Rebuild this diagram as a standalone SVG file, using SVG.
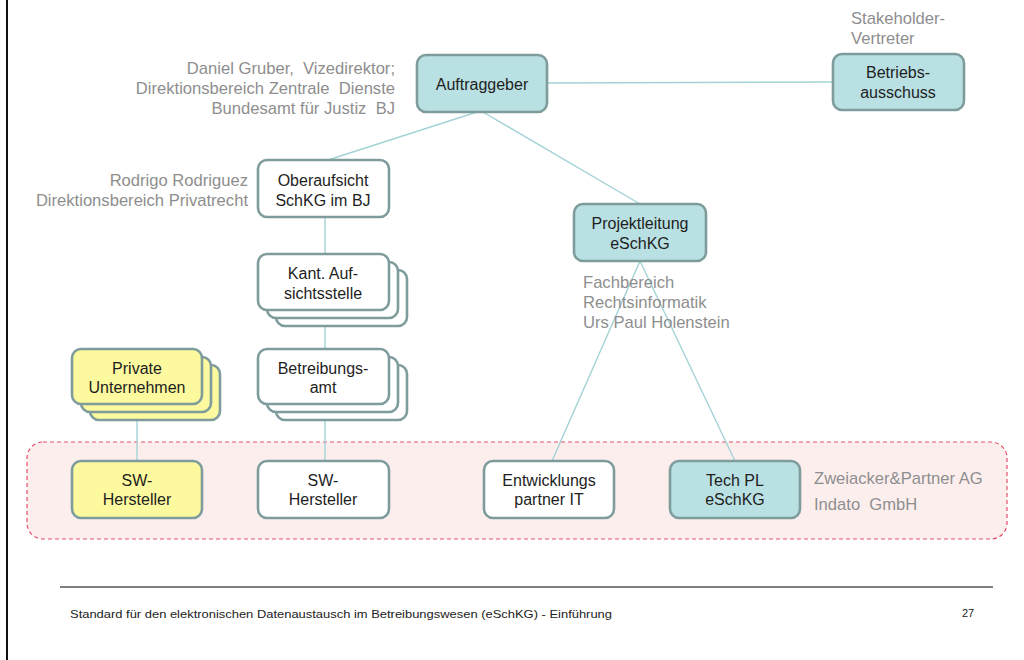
<svg xmlns="http://www.w3.org/2000/svg" width="1024" height="660" viewBox="0 0 1024 660">
  <style>
    .box { stroke: #7f9c9d; stroke-width: 2.6; }
    .teal { fill: #b9e0e2; }
    .white { fill: #ffffff; }
    .yellow { fill: #fcf99e; }
    .t { font-family: "Liberation Sans", Arial, sans-serif; font-size: 16px; fill: #1e1e1e; text-anchor: middle; }
    .g { font-family: "Liberation Sans", Arial, sans-serif; font-size: 16.6px; fill: #8e8e8e; white-space: pre; }
    .r { text-anchor: end; }
    .conn line { stroke: #a3d3d6; stroke-width: 1.4; }
    .foot { font-family: "Liberation Sans Narrow", "Liberation Sans", Arial, sans-serif; font-size: 11px; fill: #222; }
  </style>

  <rect width="1024" height="660" fill="#ffffff"/>
  <!-- page frame -->
  <line x1="7" y1="0" x2="7" y2="660" stroke="#111" stroke-width="2"/>

  <!-- external partners zone -->
  <rect id="zone" x="27" y="442" width="980" height="97" rx="16" fill="#fdeeee" stroke="#e5506a" stroke-width="1.2" stroke-dasharray="4 3"/>

  <!-- connectors -->
  <g id="connectors" class="conn">
    <line x1="547" y1="83" x2="833" y2="82"/>
    <line x1="477" y1="112" x2="328" y2="160"/>
    <line x1="483" y1="112" x2="640" y2="204"/>
    <line x1="325" y1="217" x2="325" y2="461"/>
    <line x1="137" y1="404" x2="137" y2="461"/>
    <line x1="640" y1="261" x2="552" y2="461"/>
    <line x1="640" y1="261" x2="735" y2="461"/>
  </g>

  <g id="auftraggeber">
    <rect class="box teal" x="417" y="55" width="130" height="57" rx="9"/>
    <text class="t" x="482" y="90">Auftraggeber</text>
  </g>
  <text class="g r" x="395" y="74">Daniel Gruber,  Vizedirektor;</text>
  <text class="g r" x="395" y="94">Direktionsbereich Zentrale  Dienste</text>
  <text class="g r" x="395" y="114">Bundesamt für Justiz  BJ</text>

  <g id="betriebsausschuss">
    <rect class="box teal" x="833" y="54" width="131" height="56" rx="9"/>
    <text class="t" x="898" y="78">Betriebs-</text>
    <text class="t" x="898" y="98">ausschuss</text>
  </g>
  <text class="g" x="851" y="24">Stakeholder-</text>
  <text class="g" x="851" y="44">Vertreter</text>

  <g id="oberaufsicht">
    <rect class="box white" x="258" y="160" width="131" height="57" rx="9"/>
    <text class="t" x="323" y="186">Oberaufsicht</text>
    <text class="t" x="323" y="206">SchKG im BJ</text>
  </g>
  <text class="g r" x="248" y="186">Rodrigo Rodriguez</text>
  <text class="g r" x="248" y="206">Direktionsbereich Privatrecht</text>

  <g id="projektleitung">
    <rect class="box teal" x="574" y="204" width="132" height="57" rx="9"/>
    <text class="t" x="640" y="229">Projektleitung</text>
    <text class="t" x="640" y="249">eSchKG</text>
  </g>
  <text class="g" x="583" y="288">Fachbereich</text>
  <text class="g" x="583" y="308">Rechtsinformatik</text>
  <text class="g" x="583" y="328">Urs Paul Holenstein</text>

  <g id="kant-aufsichtsstelle">
    <rect class="box white" x="276" y="270" width="131" height="56" rx="9"/>
    <rect class="box white" x="267" y="262" width="131" height="56" rx="9"/>
    <rect class="box white" x="258" y="254" width="131" height="56" rx="9"/>
    <text class="t" x="323" y="279">Kant. Auf-</text>
    <text class="t" x="323" y="299">sichtsstelle</text>
  </g>

  <g id="betreibungsamt">
    <rect class="box white" x="276" y="365" width="131" height="55" rx="9"/>
    <rect class="box white" x="267" y="357" width="131" height="55" rx="9"/>
    <rect class="box white" x="258" y="349" width="131" height="55" rx="9"/>
    <text class="t" x="323" y="374">Betreibungs-</text>
    <text class="t" x="323" y="393">amt</text>
  </g>

  <g id="private-unternehmen">
    <rect class="box yellow" x="90" y="365" width="130" height="55" rx="9"/>
    <rect class="box yellow" x="81" y="357" width="130" height="55" rx="9"/>
    <rect class="box yellow" x="72" y="349" width="130" height="55" rx="9"/>
    <text class="t" x="137" y="374">Private</text>
    <text class="t" x="137" y="393">Unternehmen</text>
  </g>

  <g id="sw-hersteller-privat">
    <rect class="box yellow" x="72" y="461" width="130" height="57" rx="9"/>
    <text class="t" x="137" y="486">SW-</text>
    <text class="t" x="137" y="505">Hersteller</text>
  </g>

  <g id="sw-hersteller-amt">
    <rect class="box white" x="258" y="461" width="131" height="57" rx="9"/>
    <text class="t" x="323" y="486">SW-</text>
    <text class="t" x="323" y="505">Hersteller</text>
  </g>

  <g id="entwicklungspartner">
    <rect class="box white" x="484" y="461" width="130" height="57" rx="9"/>
    <text class="t" x="549" y="486">Entwicklungs</text>
    <text class="t" x="549" y="505">partner IT</text>
  </g>

  <g id="tech-pl">
    <rect class="box teal" x="670" y="461" width="130" height="57" rx="9"/>
    <text class="t" x="735" y="486">Tech PL</text>
    <text class="t" x="735" y="505">eSchKG</text>
  </g>
  <text class="g" x="814" y="484">Zweiacker&amp;Partner AG</text>
  <text class="g" x="814" y="510">Indato  GmbH</text>

  <!-- footer -->
  <line x1="60" y1="587" x2="993" y2="587" stroke="#555" stroke-width="1.5"/>
  <text class="foot" x="70" y="618" textLength="542" lengthAdjust="spacingAndGlyphs">Standard für den elektronischen Datenaustausch im Betreibungswesen (eSchKG) - Einführung</text>
  <text class="foot" x="962" y="617">27</text>
</svg>
